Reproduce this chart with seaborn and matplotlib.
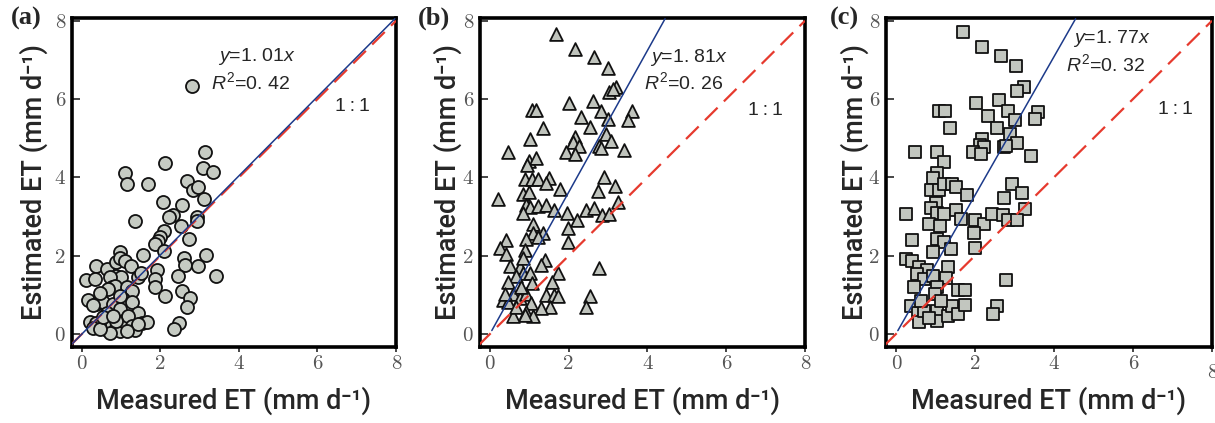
import numpy as np
import pandas as pd
import seaborn as sns
import matplotlib
import matplotlib.pyplot as plt

# ---------------- data ----------------
a_x = [2.80, 3.14, 3.08, 3.34, 2.13, 1.10, 1.14, 1.68, 2.69, 2.82, 2.96, 3.10, 2.06, 2.55,
       2.33, 2.21, 2.93, 2.93, 1.36, 2.52, 2.09, 1.99, 1.95, 1.86, 2.73, 2.08, 0.97, 1.57,
       3.17, 2.59, 2.63, 2.97, 3.42, 1.91, 1.86, 1.86, 2.46, 2.12, 2.55, 2.75, 2.68, 2.47,
       2.34, 0.10, 0.36, 0.33, 0.63, 0.88, 0.97, 1.10, 1.25, 0.88, 0.99, 0.71, 1.44, 1.51,
       0.16, 0.46, 0.37, 0.54, 0.29, 0.76, 0.84, 1.14, 1.27, 1.06, 1.27, 0.80, 0.63, 0.97,
       1.44, 0.22, 0.37, 0.50, 0.29, 0.63, 0.76, 0.88, 0.97, 1.06, 1.18, 1.27, 1.36, 1.53,
       1.66, 1.44, 0.88, 1.14, 0.72, 0.46, 0.54, 0.80, 0.67, 0.97, 0.46]
a_y = [6.33, 4.65, 4.25, 4.14, 4.38, 4.11, 3.84, 3.84, 3.90, 3.67, 3.75, 3.45, 3.38, 3.30,
       3.05, 2.98, 3.00, 2.88, 2.88, 2.77, 2.64, 2.49, 2.38, 2.30, 2.44, 2.13, 2.09, 2.02,
       2.02, 1.93, 1.77, 1.74, 1.49, 1.63, 1.40, 1.19, 1.49, 0.96, 1.10, 0.91, 0.68, 0.29,
       0.14, 1.38, 1.74, 1.40, 1.66, 1.83, 1.95, 1.87, 1.74, 1.49, 1.47, 1.45, 1.45, 1.57,
       0.86, 0.93, 0.77, 0.81, 0.74, 1.19, 1.23, 1.19, 1.10, 0.89, 0.81, 0.77, 0.55, 0.64,
       0.55, 0.31, 0.29, 0.25, 0.16, 0.10, 0.25, 0.16, 0.08, 0.33, 0.46, 0.20, 0.11, 0.29,
       0.31, 0.25, 0.33, 0.08, 0.04, 0.12, 0.43, 0.46, 1.15, 0.97, 1.05]

b_x = [1.68, 2.15, 2.65, 3.01, 3.20, 3.03, 3.12, 2.02, 2.61, 1.08, 1.18, 3.60, 3.51, 2.82,
       3.01, 2.32, 2.54, 1.36, 2.95, 3.07, 2.17, 2.11, 2.26, 2.76, 2.82, 1.94, 2.17, 3.41,
       1.03, 0.46, 0.99, 1.18, 0.94, 0.88, 1.08, 1.23, 1.49, 1.42, 1.79, 2.91, 2.74, 3.17,
       3.26, 0.21, 0.84, 0.99, 0.93, 1.03, 0.83, 1.22, 1.43, 1.62, 1.95, 2.21, 2.43, 2.65,
       2.84, 3.03, 1.09, 1.09, 1.35, 1.22, 0.93, 1.98, 1.98, 0.42, 0.25, 0.42, 0.88, 0.51,
       0.76, 0.83, 1.39, 1.31, 0.84, 0.67, 1.01, 0.47, 1.06, 1.74, 1.57, 2.76, 0.34, 0.46,
       0.59, 0.76, 0.93, 1.05, 1.43, 1.64, 1.73, 1.52, 1.31, 0.93, 1.09, 0.88, 0.59, 2.53,
       2.44, 0.67, 0.80, 0.38]
b_y = [7.65, 7.27, 7.08, 6.80, 6.30, 6.19, 6.25, 5.89, 5.96, 5.72, 5.72, 5.70, 5.47, 5.69,
       5.49, 5.53, 5.28, 5.26, 5.11, 4.94, 5.03, 4.90, 4.79, 4.79, 4.75, 4.64, 4.60, 4.69,
       4.97, 4.64, 4.43, 4.50, 4.31, 3.97, 3.97, 3.97, 3.99, 3.86, 3.71, 4.01, 3.65, 3.77,
       3.37, 3.44, 3.58, 3.63, 3.29, 3.25, 3.08, 3.26, 3.29, 3.16, 3.09, 2.91, 3.18, 3.23,
       3.03, 3.06, 2.81, 2.57, 2.59, 2.48, 2.44, 2.72, 2.36, 2.40, 2.19, 2.04, 2.14, 1.74,
       1.72, 1.93, 1.89, 1.76, 1.55, 1.48, 1.55, 1.34, 1.30, 1.55, 1.34, 1.68, 0.87, 0.81,
       1.03, 0.92, 1.03, 0.79, 1.00, 1.00, 0.96, 0.70, 0.66, 0.57, 0.45, 0.49, 0.45, 0.96,
       0.70, 0.70, 1.21, 1.03]

c_x = [1.71, 2.17, 2.67, 3.03, 3.23, 3.06, 2.02, 2.61, 1.09, 1.24, 3.60, 3.51, 2.85, 3.01,
       2.33, 2.57, 1.37, 2.89, 3.07, 2.19, 2.13, 2.23, 1.94, 2.16, 2.74, 2.78, 3.43, 1.04,
       0.48, 1.22, 1.04, 0.95, 0.88, 1.09, 1.22, 1.43, 1.52, 1.79, 2.93, 2.74, 3.18, 3.28,
       0.25, 1.01, 0.88, 1.03, 1.22, 0.84, 1.12, 1.52, 1.64, 1.99, 2.23, 2.44, 2.70, 2.84,
       3.07, 1.98, 1.99, 1.05, 1.22, 1.39, 0.42, 0.93, 0.25, 0.42, 0.59, 0.78, 0.53, 0.72,
       0.93, 1.31, 1.26, 0.46, 1.04, 0.99, 1.56, 1.74, 2.78, 0.38, 0.55, 0.59, 0.72, 1.05,
       1.05, 0.84, 1.31, 1.43, 1.58, 1.74, 2.57, 2.47, 1.14, 0.63]
c_y = [7.70, 7.34, 7.11, 6.85, 6.30, 6.21, 5.90, 5.98, 5.70, 5.70, 5.67, 5.49, 5.69, 5.46,
       5.56, 5.26, 5.26, 5.11, 4.88, 4.97, 4.82, 4.77, 4.65, 4.60, 4.77, 4.80, 4.54, 4.64,
       4.64, 4.39, 4.12, 3.99, 3.68, 3.69, 3.84, 3.82, 3.75, 3.55, 3.84, 3.48, 3.59, 3.20,
       3.06, 3.34, 3.23, 3.10, 3.07, 2.82, 2.76, 3.16, 2.95, 2.92, 2.80, 3.06, 3.04, 2.91,
       2.91, 2.59, 2.21, 2.42, 2.36, 2.18, 2.39, 2.09, 1.91, 1.87, 1.70, 1.63, 1.53, 1.40,
       1.49, 1.70, 1.44, 1.21, 1.19, 1.02, 1.13, 1.13, 1.38, 0.72, 0.53, 0.30, 0.59, 0.59,
       0.34, 0.42, 0.47, 0.72, 0.51, 0.74, 0.72, 0.51, 0.85, 0.85]

panel_tags = ["(a)", "(b)", "(c)"]
slopes = [1.01, 1.81, 1.77]
r2_text = ["0. 42", "0. 26", "0. 32"]
slope_text = ["1. 01", "1. 81", "1. 77"]
tick_vals = [0, 2, 4, 6, 8]
x_label = "Measured ET (mm d\u207b\u00b9)"
y_label = "Estimated ET (mm d\u207b\u00b9)"

# ---------------- style ----------------
sns.set_style("white")
plt.rcParams["font.family"] = ["Liberation Sans", "DejaVu Sans"]
plt.rcParams["mathtext.fontset"] = "custom"
plt.rcParams["mathtext.rm"] = "Liberation Sans"
plt.rcParams["mathtext.it"] = "Liberation Sans:italic"

fig = plt.figure(figsize=(12.15, 4.23), dpi=100)

W, H = 1215.0, 423.0
boxes = [(72, 396), (480, 805), (886, 1212)]
top_px, bot_px = 18, 347
ylab_x = [-0.117, -0.100, -0.097]
tag_x = [26, 434, 844]

datasets = [(a_x, a_y, "o", 88, "#c6cbc3"),
            (b_x, b_y, "^", 85, "#bfc3bc"),
            (c_x, c_y, "s", 64, "#c2c6bf")]
text_pos = [((4.45, 7.08), (4.30, 6.44), (6.9, 5.8)),
            ((5.05, 7.07), (4.93, 6.43), (7.0, 5.72)),
            ((5.47, 7.55), (5.31, 6.88), (7.07, 5.73))]
blue_start = [-0.3, 0.05, 0.05]

for i in range(3):
    l, r = boxes[i]
    ax = fig.add_axes([l / W, (H - bot_px) / H, (r - l) / W, (bot_px - top_px) / H])
    xs, ys, mk, sz, fc = datasets[i]
    df = pd.DataFrame({"Measured": xs, "Estimated": ys})
    sns.scatterplot(data=df, x="Measured", y="Estimated", marker=mk, s=sz,
                    color=fc, edgecolor="#111111", linewidth=1.3, ax=ax, zorder=3)
    # 1:1 line
    ax.plot([-0.3, 8.0], [-0.3, 8.0], color="#e63a2e", lw=1.6,
            dashes=(8, 4), zorder=4)
    # fitted line
    s = slopes[i]
    x_end = min(8.0, 8.05 / s)
    ax.plot([blue_start[i], x_end], [s * blue_start[i], s * x_end],
            color="#1c3a8a", lw=1.1, zorder=5)

    ax.set_xlim(-0.25, 8.0)
    ax.set_ylim(-0.33, 8.07)
    ax.set_xticks(tick_vals)
    ax.set_yticks(tick_vals)
    ax.set_xticklabels([str(v) for v in tick_vals])
    ax.set_yticklabels([str(v) for v in tick_vals])
    for lab in ax.get_xticklabels() + ax.get_yticklabels():
        lab.set_fontfamily("cmr10")
        lab.set_fontsize(15)
        lab.set_color("#555555")
    ax.tick_params(axis="y", direction="in", length=6, width=1.2, pad=5, left=True)
    ax.tick_params(axis="x", direction="out", length=3.5, width=1.2, pad=2, bottom=True)
    if i == 2:
        ax.xaxis.get_major_ticks()[-1].set_pad(9)
    for sp in ax.spines.values():
        sp.set_linewidth(2.6)
        sp.set_color("black")

    ax.set_xlabel(x_label, fontsize=19.5, family=["Roboto", "DejaVu Sans"],
                  fontweight="medium", va="center")
    ax.set_ylabel(y_label, fontsize=19.5, family=["Roboto", "DejaVu Sans"],
                  fontweight="medium", va="center")
    ax.xaxis.set_label_coords(0.5, -0.163)
    ax.yaxis.set_label_coords(ylab_x[i], 0.5)

    (p1, p2, p3) = text_pos[i]
    ax.text(p1[0], p1[1], r"$y$=" + slope_text[i] + r"$x$", fontsize=14,
            ha="center", va="center", zorder=6)
    ax.text(p2[0], p2[1], r"$R^{\mathrm{2}}$=" + r2_text[i], fontsize=14,
            ha="center", va="center", zorder=6)
    ax.text(p3[0], p3[1], "1\u2009:\u20091", fontsize=14, ha="center", va="center", zorder=6)

    fig.text(tag_x[i] / W, 1 - 18 / H, panel_tags[i], fontsize=19,
             family="Liberation Serif", fontweight="bold", ha="center", va="center")

fig.savefig("out.png", dpi=100)
